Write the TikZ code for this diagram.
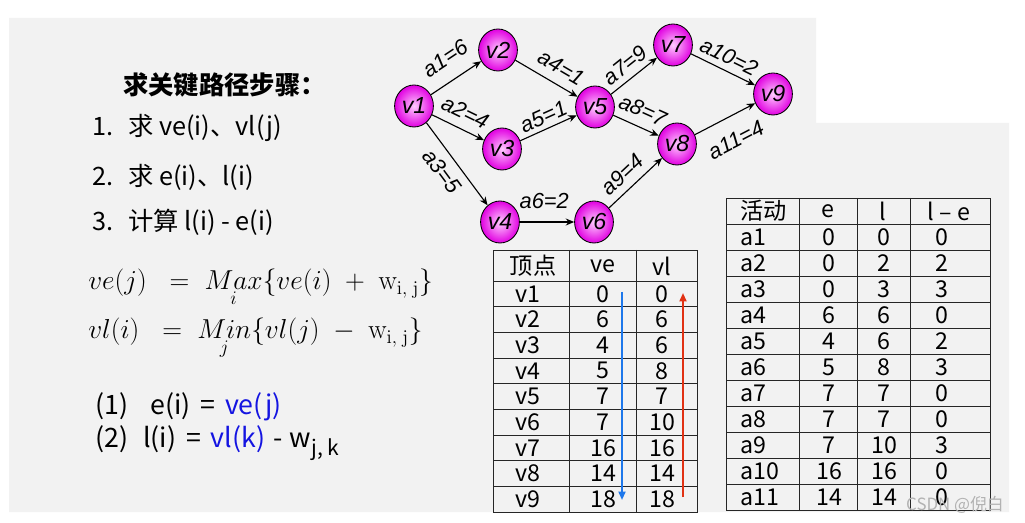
\RequirePackage{fix-cm}
\documentclass[tikz,border=0pt]{standalone}
\usepackage[no-math]{fontspec}
\setmainfont{Noto Sans CJK SC}
\newfontfamily\lblfont{Liberation Sans}
\usetikzlibrary{shapes.geometric,arrows.meta,positioning,calc}
\definecolor{bggray}{RGB}{242,242,242}
\definecolor{ballpink}{RGB}{225,0,225}
\definecolor{formblue}{RGB}{20,20,225}
\definecolor{downblue}{RGB}{30,120,235}
\definecolor{upred}{RGB}{225,50,20}

\begin{document}
\begin{tikzpicture}[
    x=0.025cm, y=-0.025cm,
    vertex/.style={ellipse, draw=black, line width=0.6pt, inner color=magenta!20!white, outer color=ballpink, minimum width=0.97cm, minimum height=1.05cm, inner sep=0pt, font=\lblfont\itshape\fontsize{16.5}{16.5}\selectfont},
    edge/.style={line width=0.8pt, -{Stealth[length=6pt,width=5pt]}},
    wlabel/.style={sloped, font=\lblfont\itshape\fontsize{15.5}{15.5}\selectfont, inner sep=6pt},
    steptext/.style={anchor=west, font=\fontsize{18}{18}\selectfont, inner sep=0pt},
    formula/.style={anchor=base west, font=\fontsize{19.5}{19.5}\selectfont, inner sep=0pt},
    cell/.style={font=\fontsize{16.5}{16.5}\selectfont, inner sep=0pt},
    tabline/.style={line width=0.7pt, draw=black!85},
    pass/.style={line width=1.3pt, -{Triangle[length=6pt,width=5pt]}}
]
    % background panel
    \fill[white] (0,0) rectangle (1025,523);
    \fill[bggray] (9,18) -- (816,18) -- (816,123) -- (1009,123) -- (1009,512) -- (9,512) -- cycle;
    \useasboundingbox (0,0) rectangle (1025,523);

    % steps on the left
    \node[anchor=west, inner sep=0pt, font=\bfseries\fontsize{18}{18}\selectfont] (title) at (123,85) {求关键路径步骤：};
    \node[steptext] (s1) at (92,128) {\makebox[0.9cm][l]{1.}求 ve(i)、vl(j)};
    \node[steptext] (s2) at (92,177) {\makebox[0.9cm][l]{2.}求 e(i)、l(i)};
    \node[steptext] (s3) at (92,222) {\makebox[0.9cm][l]{3.}计算 l(i) - e(i)};

    % formulas
    \node[formula] (f1) at (88,290) {$ve(j)\;\;=\;\mathop{Max}\limits_{i}\{ve(i)\;+\;\mathrm{w}_{\mathrm{i,\;j}}\}$};
    \node[formula] (f2) at (88,339) {$vl(i)\;\;=\;\mathop{Min}\limits_{j}\{vl(j)\;-\;\mathrm{w}_{\mathrm{i,\;j}}\}$};
    \node[steptext, font=\fontsize{19}{19}\selectfont] (e1) at (95,407) {\makebox[1.375cm][l]{(1)}e(i)\hspace{7pt}=\hspace{7pt}\textcolor{formblue}{ve(j)}};
    \node[steptext, font=\fontsize{19}{19}\selectfont] (e2) at (95,443) {\makebox[1.2cm][l]{(2)}l(i)\hspace{7pt}=\hspace{7pt}\textcolor{formblue}{vl(k)}\hspace{6pt}-\hspace{5pt}w\textsubscript{\fontsize{15}{15}\selectfont j, k}};

    % AOE network
    \node[vertex] (v1) at (414,106) {v1};
    \node[vertex] (v2) at (498,50)  {v2};
    \node[vertex] (v3) at (502,149) {v3};
    \node[vertex] (v4) at (500,222) {v4};
    \node[vertex] (v5) at (595,107) {v5};
    \node[vertex] (v6) at (594,222) {v6};
    \node[vertex] (v7) at (673,45)  {v7};
    \node[vertex] (v8) at (677,144) {v8};
    \node[vertex] (v9) at (773,94)  {v9};

    \draw[edge] (v1) -- node[wlabel, above, pos=0.53, inner sep=10pt] {a1=6} (v2);
    \draw[edge] (v1) -- node[wlabel, above] {a2=4} (v3);
    \draw[edge] (v1) -- node[wlabel, below, pos=0.47] {a3=5} (v4);
    \draw[edge] (v2) -- node[wlabel, above, pos=0.6] {a4=1} (v5);
    \draw[edge] (v3) -- node[wlabel, above, inner sep=3pt] {a5=1} (v5);
    \draw[edge] (v4) -- node[wlabel, above, pos=0.45, inner sep=9pt] {a6=2} (v6);
    \draw[edge] (v5) -- node[wlabel, above, inner sep=4pt] {a7=9} (v7);
    \draw[edge] (v5) -- node[wlabel, above] {a8=7} (v8);
    \draw[edge] (v6) -- node[wlabel, above, pos=0.45, inner sep=5pt] {a9=4} (v8);
    \draw[edge] (v7) -- node[wlabel, above, inner sep=4pt] {a10=2} (v9);
    \draw[edge] (v8) -- node[wlabel, below, pos=0.5, inner sep=11pt] {a11=4} (v9);

    % vertex table
    \draw[tabline] (493,250) rectangle (697,512);
    \draw[tabline] (569,250) -- (569,512);
    \draw[tabline] (636,250) -- (636,512);
    \foreach \k in {0,...,8} {
        \draw[tabline] (493,{281+25.67*\k}) -- (697,{281+25.67*\k});
    }
    \node[cell] (th1) at (533,266) {顶点};
    \node[cell] (th2) at (603,266) {ve};
    \node[cell] (th3) at (662,266) {vl};
    \foreach \vname/\ve/\vl [count=\i] in {v1/0/0, v2/6/6, v3/4/6, v4/5/8, v5/7/7, v6/7/10, v7/16/16, v8/14/14, v9/18/18} {
        \node[cell, anchor=west] (tv\i) at (515,{281+25.67*(\i-0.5)}) {\vname};
        \node[cell] (te\i) at (603,{281+25.67*(\i-0.5)}) {\ve};
        \node[cell] (tl\i) at (662,{281+25.67*(\i-0.5)}) {\vl};
    }
    \coordinate (vetop) at (622,292);
    \coordinate (vebot) at (622,500);
    \coordinate (vlbot) at (683,497);
    \coordinate (vltop) at (683,293);
    \draw[pass, downblue] (vetop) -- (vebot);
    \draw[pass, upred] (vlbot) -- (vltop);

    % activity table
    \draw[tabline] (726,198) rectangle (990,510);
    \foreach \x in {799,857,910} {
        \draw[tabline] (\x,198) -- (\x,510);
    }
    \foreach \k in {1,...,11} {
        \draw[tabline] (726,{198+26*\k}) -- (990,{198+26*\k});
    }
    \node[cell, anchor=west] (ah1) at (740,211) {活动};
    \node[cell] (ah2) at (828,211) {e};
    \node[cell] (ah3) at (883,211) {l};
    \node[cell] (ah4) at (949,211) {l – e};
    \foreach \aname/\ae/\al/\ad [count=\i] in {a1/0/0/0, a2/0/2/2, a3/0/3/3, a4/6/6/0, a5/4/6/2, a6/5/8/3, a7/7/7/0, a8/7/7/0, a9/7/10/3, a10/16/16/0, a11/14/14/0} {
        \node[cell, anchor=west] (ta\i) at (740,{198+26*(\i+0.5)}) {\aname};
        \node[cell] (tae\i) at (829,{198+26*(\i+0.5)}) {\ae};
        \node[cell] (tal\i) at (884,{198+26*(\i+0.5)}) {\al};
        \node[cell] (tad\i) at (942,{198+26*(\i+0.5)}) {\ad};
    }

    % watermark
    \node[font=\fontsize{12}{12}\selectfont, text=black!30, inner sep=0pt] (mark) at (955,505) {CSDN @倪白};
\end{tikzpicture}
\end{document}
